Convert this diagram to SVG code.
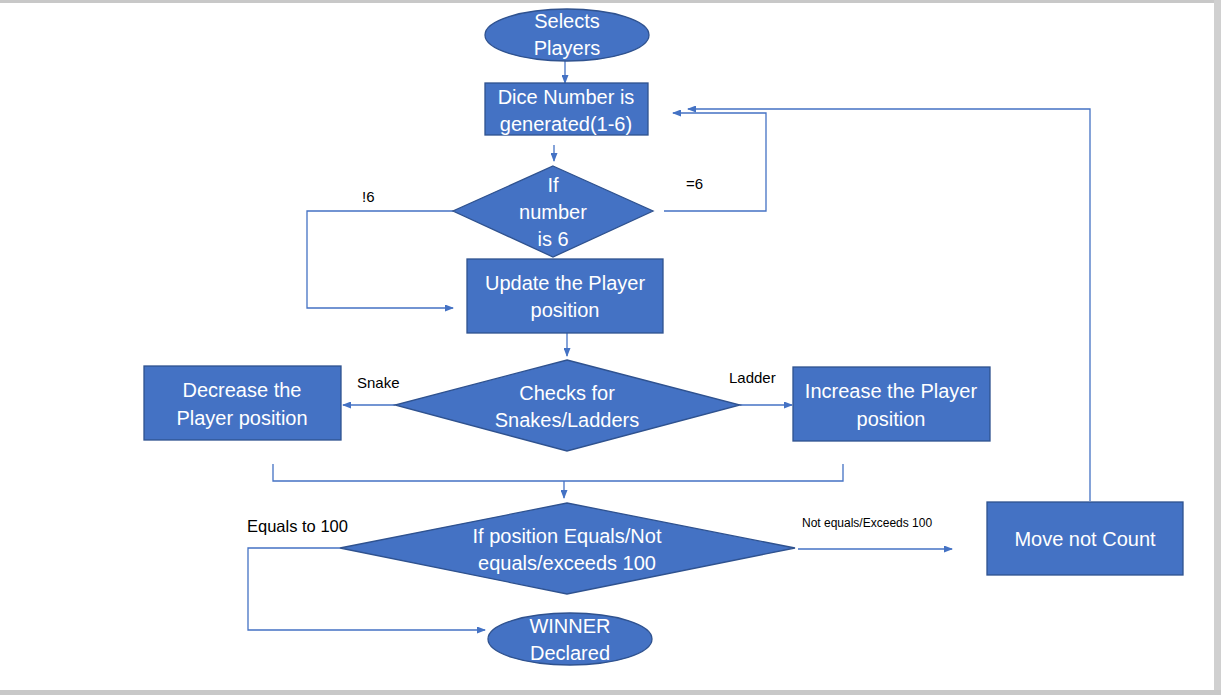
<svg xmlns="http://www.w3.org/2000/svg" width="1221" height="695" viewBox="0 0 1221 695">
<defs>
<marker id="ah" markerWidth="9" markerHeight="7" refX="8" refY="3.5" orient="auto" markerUnits="userSpaceOnUse">
<path d="M0,0 L9,3.5 L0,7 Z" fill="#4472C4"/>
</marker>
<style>
.shape{fill:#4472C4;stroke:#2F528F;stroke-width:1.3}
.t{font-family:"Liberation Sans",Arial,sans-serif;font-size:20px;fill:#FFFFFF;text-anchor:middle}
.lbl{font-family:"Liberation Sans",Arial,sans-serif;font-size:15px;fill:#000000}
.c{fill:none;stroke:#4472C4;stroke-width:1.3}
.a{marker-end:url(#ah)}
</style>
</defs>
<rect x="0" y="0" width="1221" height="695" fill="#FFFFFF"/>
<rect x="0" y="0" width="1221" height="3" fill="#C8C8C8"/>
<rect x="1214" y="0" width="7" height="695" fill="#D0D0D0"/>
<rect x="0" y="690" width="1221" height="5" fill="#C8C8C8"/>

<g id="connectors">
<line class="c a" x1="565" y1="61" x2="565" y2="83"/>
<line class="c a" x1="554" y1="145" x2="554" y2="161"/>
<polyline class="c a" points="453,211 307,211 307,308 453,308"/>
<polyline class="c a" points="664,211 766,211 766,113 673,113"/>
<line class="c a" x1="567" y1="333" x2="567" y2="356"/>
<line class="c a" x1="395" y1="405" x2="343" y2="405"/>
<line class="c a" x1="740" y1="405" x2="792" y2="405"/>
<polyline class="c" points="273,464 273,481 843,481 843,464"/>
<line class="c a" x1="564" y1="481" x2="564" y2="498"/>
<polyline class="c a" points="340,548 248,548 248,630 485,630"/>
<line class="c a" x1="798" y1="549" x2="952" y2="549"/>
<polyline class="c a" points="1090,501 1090,109 688,109"/>
<text class="lbl" x="362" y="202">!6</text>
<text class="lbl" x="686" y="189">=6</text>
<text class="lbl" x="357" y="388">Snake</text>
<text class="lbl" x="729" y="383">Ladder</text>
<text class="lbl" x="247" y="532" style="font-size:16.5px">Equals to 100</text>
<text class="lbl" x="802" y="527" style="font-size:12px">Not equals/Exceeds 100</text>
</g>

<g id="start">
<ellipse class="shape" cx="567" cy="35" rx="82" ry="26"/>
<text class="t" x="567" y="28">Selects</text>
<text class="t" x="567" y="55">Players</text>
</g>

<g id="dice">
<rect class="shape" x="485" y="83" width="163" height="52"/>
<text class="t" x="566" y="104">Dice Number is</text>
<text class="t" x="566" y="131">generated(1-6)</text>
</g>

<g id="is6">
<polygon class="shape" points="553,166 653,211 553,257 453,211"/>
<text class="t" x="553" y="192">If</text>
<text class="t" x="553" y="219">number</text>
<text class="t" x="553" y="246">is 6</text>
</g>

<g id="update">
<rect class="shape" x="467" y="259" width="196" height="74"/>
<text class="t" x="565" y="290">Update the Player</text>
<text class="t" x="565" y="317">position</text>
</g>

<g id="checks">
<polygon class="shape" points="567,360 740,405 567,451 395,405"/>
<text class="t" x="567" y="400">Checks for</text>
<text class="t" x="567" y="427">Snakes/Ladders</text>
</g>

<g id="decrease">
<rect class="shape" x="144" y="366" width="197" height="74"/>
<text class="t" x="242" y="397">Decrease the</text>
<text class="t" x="242" y="425">Player position</text>
</g>

<g id="increase">
<rect class="shape" x="793" y="367" width="197" height="74"/>
<text class="t" x="891" y="398">Increase the Player</text>
<text class="t" x="891" y="426">position</text>
</g>

<g id="pos100">
<polygon class="shape" points="567,503 795,548 567,594 340,548"/>
<text class="t" x="567" y="543">If position Equals/Not</text>
<text class="t" x="567" y="570">equals/exceeds 100</text>
</g>

<g id="winner">
<ellipse class="shape" cx="570" cy="639" rx="82" ry="26"/>
<text class="t" x="570" y="633">WINNER</text>
<text class="t" x="570" y="660">Declared</text>
</g>

<g id="movenot">
<rect class="shape" x="987" y="502" width="196" height="73"/>
<text class="t" x="1085" y="546">Move not Count</text>
</g>
</svg>
